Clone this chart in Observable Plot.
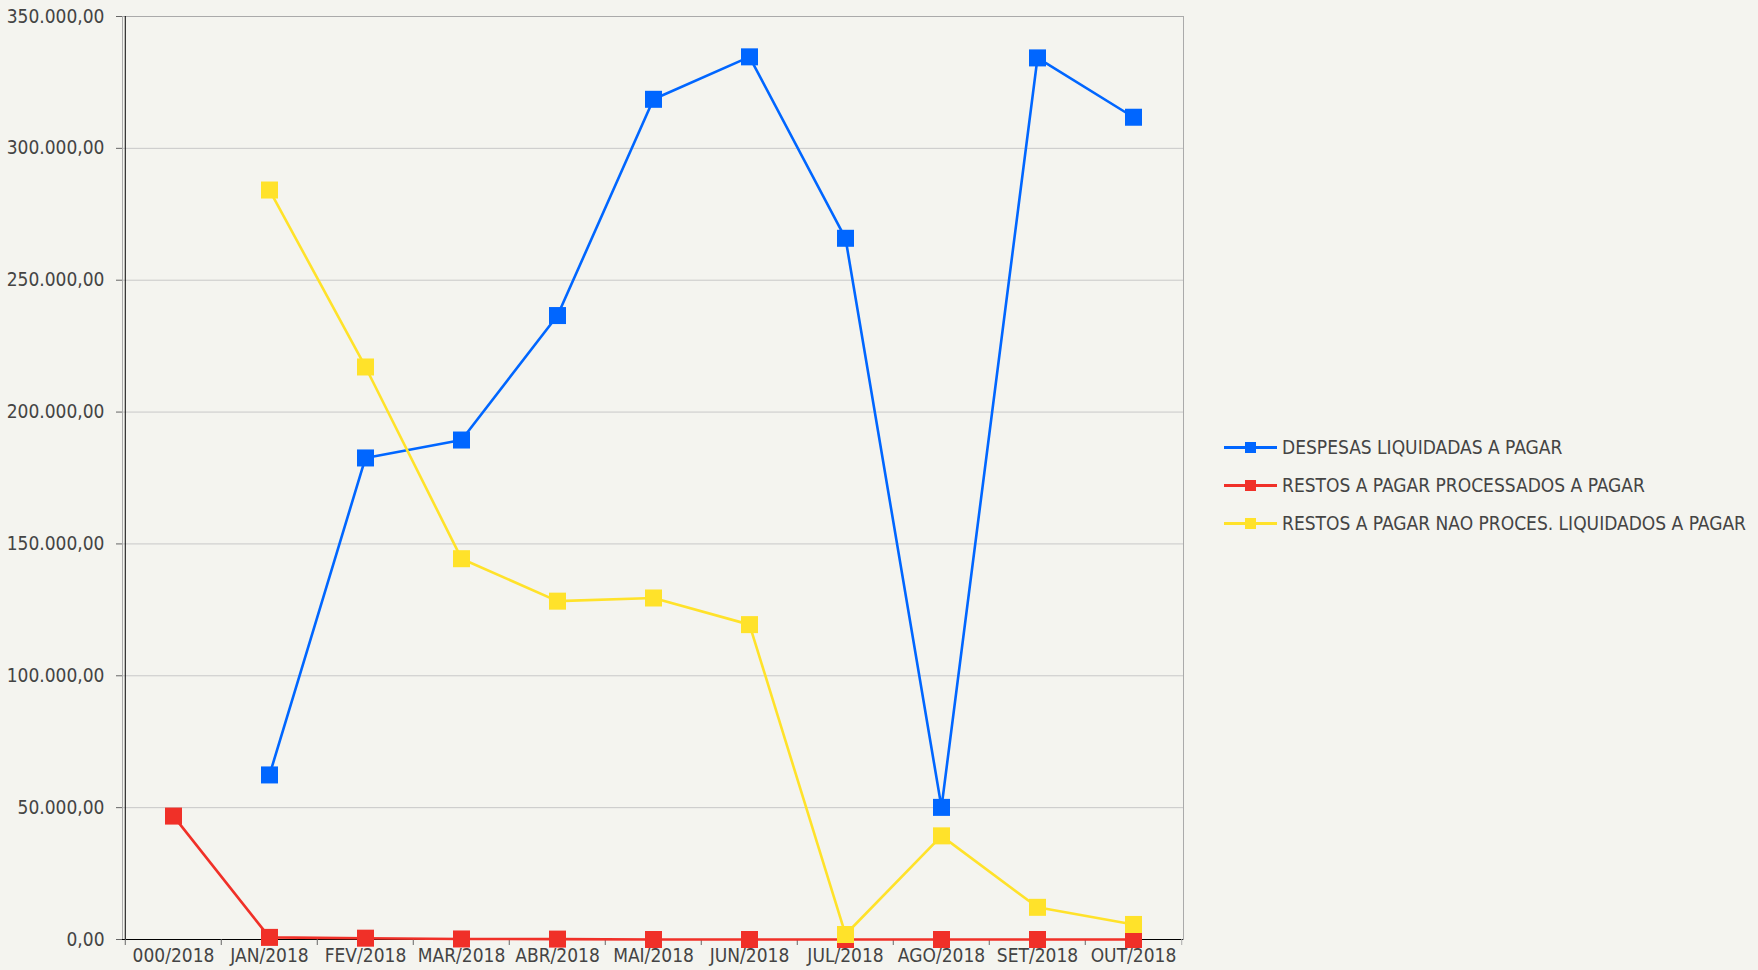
<!DOCTYPE html>
<html><head><meta charset="utf-8">
<script src="https://cdn.jsdelivr.net/npm/d3@7"></script>
<script src="https://cdn.jsdelivr.net/npm/@observablehq/plot@0.6"></script>
<style>
html,body{margin:0;padding:0;background:#f4f4ef;}
#wrap{position:relative;width:1758px;height:970px;overflow:hidden;}
#legend{position:absolute;left:1224px;top:428px;font-family:"DejaVu Sans Condensed","DejaVu Sans",sans-serif;font-stretch:condensed;font-size:19px;color:#444;}
.row{display:flex;align-items:center;height:38px;white-space:nowrap;}
.sw{position:relative;width:53px;height:11px;margin-right:5px;flex:none;}
.sw .ln{position:absolute;left:0;right:0;top:4px;height:3px;}
.sw .mk{position:absolute;left:21px;top:0;width:11px;height:11px;}
</style>
</head><body>
<div id="wrap"><div id="chart"></div><div id="legend"></div></div>
<script>
const months = ["000/2018","JAN/2018","FEV/2018","MAR/2018","ABR/2018","MAI/2018","JUN/2018","JUL/2018","AGO/2018","SET/2018","OUT/2018"];
const despesasLiquidadas = [null, 62400, 182600, 189400, 236600, 318600, 334700, 265900, 50100, 334300, 311800];
const restosProcessados = [46800, 800, 500, 200, 150, 0, 0, 0, 0, 0, 0];
const restosNaoProcessados = [null, 284200, 217100, 144400, 128300, 129500, 119400, 1900, 39300, 12200, 5700];
const seriesNames = ["DESPESAS LIQUIDADAS A PAGAR","RESTOS A PAGAR PROCESSADOS A PAGAR","RESTOS A PAGAR NAO PROCES. LIQUIDADOS A PAGAR"];
const seriesColors = ["#0066ff","#f03028","#ffe22a"];
const yTicks = [0, 50000, 100000, 150000, 200000, 250000, 300000, 350000];

const seriesValues = [despesasLiquidadas, restosProcessados, restosNaoProcessados];
const width = 1758, height = 970, marginLeft = 122, marginRight = 575, marginTop = 16, marginBottom = 31;
const step = (width - marginLeft - marginRight) / months.length;
const fmt = d3.formatLocale({decimal: ",", thousands: ".", grouping: [3], currency: ["", ""]}).format(",.2f");

const seriesMarks = seriesValues.flatMap((vals, i) => {
  const data = months.map((m, j) => ({month: m, value: vals[j]})).filter(d => d.value != null);
  return [
    Plot.line(data, {x: "month", y: "value", stroke: seriesColors[i], strokeWidth: 2.6}),
    Plot.dot(data, {x: "month", y: "value", symbol: "square", r: 9.6, fill: seriesColors[i], stroke: "none"})
  ];
});

const chart = Plot.plot({
  width, height, marginLeft, marginRight, marginTop, marginBottom,
  style: {background: "transparent", fontFamily: "'DejaVu Sans Condensed','DejaVu Sans',sans-serif", fontStretch: "condensed", fontSize: "19px", color: "#444"},
  x: {type: "point", domain: months, padding: 0.5, axis: null, label: null},
  y: {domain: [0, 350000], axis: null, label: null},
  marks: [
    Plot.gridY(yTicks, {stroke: "#c8c8c8", strokeOpacity: 1}),
    Plot.frame({stroke: "#aaaaaa"}),
    Plot.ruleX([months[0]], {dx: -step / 2, stroke: "#000"}),
    Plot.ruleY([0], {stroke: "#000"}),
    Plot.axisY({ticks: yTicks, tickFormat: fmt, tickSize: 6, tickPadding: 12, stroke: "#666", fill: "#444", fontSize: 19, label: null}),
    Plot.axisX({tickSize: 6, tickFormat: () => "", dx: -step / 2, stroke: "#666", label: null}),
    Plot.axisX({ticks: [months[months.length - 1]], tickSize: 6, tickFormat: () => "", dx: step / 2, stroke: "#aaa", label: null}),
    Plot.axisX({tickSize: 0, tickPadding: 9, fill: "#444", fontSize: 19, label: null}),
    ...seriesMarks
  ]
});
document.getElementById("chart").appendChild(chart);

const legend = document.getElementById("legend");
seriesNames.forEach((name, i) => {
  const row = document.createElement("div");
  row.className = "row";
  row.innerHTML = `<div class="sw"><div class="ln" style="background:${seriesColors[i]}"></div><div class="mk" style="background:${seriesColors[i]}"></div></div><span>${name}</span>`;
  legend.appendChild(row);
});
</script>
</body></html>
